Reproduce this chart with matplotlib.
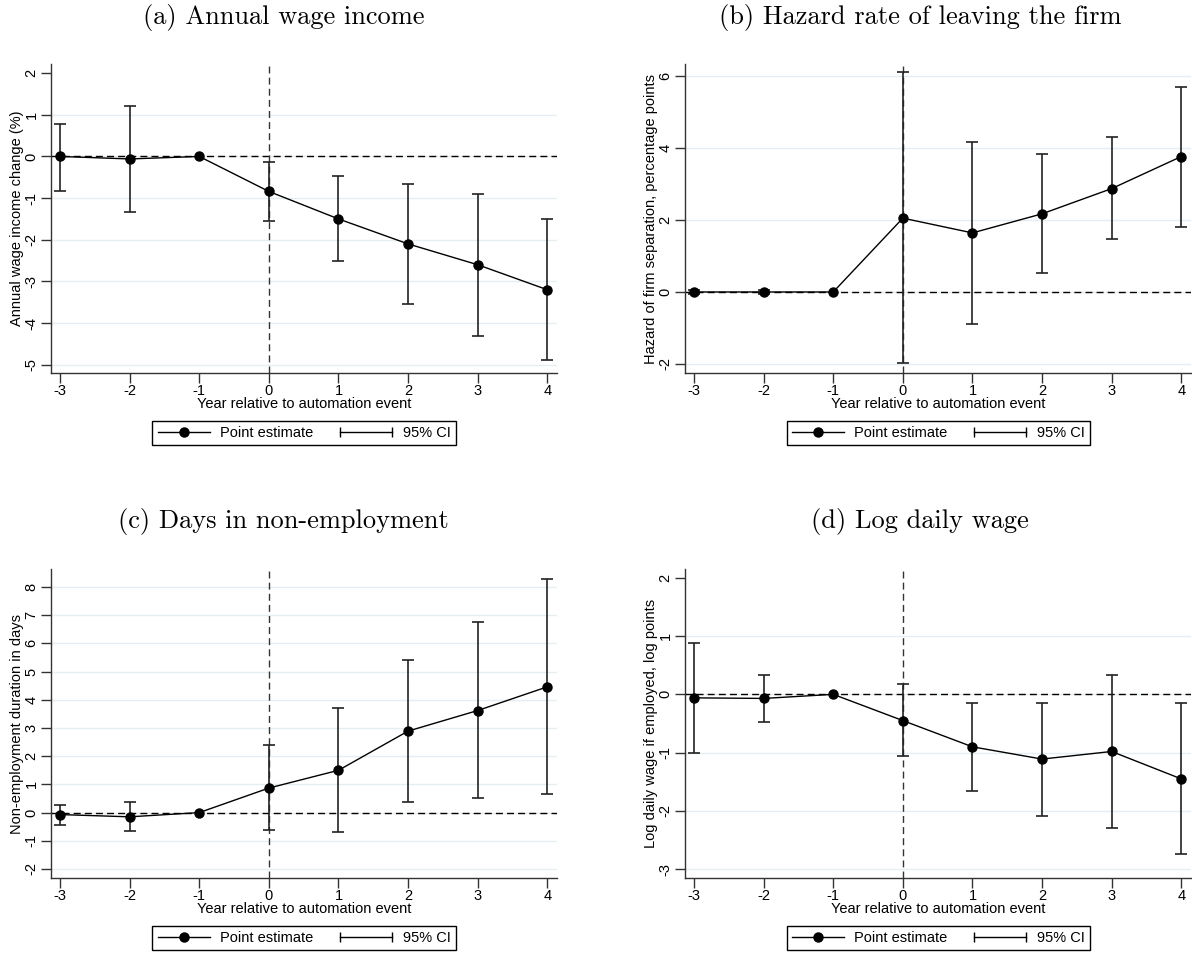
import numpy as np
import matplotlib.pyplot as plt
from matplotlib.lines import Line2D
from matplotlib.legend_handler import HandlerLine2D

plt.rcParams['font.family'] = ['Liberation Sans', 'DejaVu Sans']
plt.rcParams['axes.unicode_minus'] = False

years = [-3, -2, -1, 0, 1, 2, 3, 4]

# (a) annual wage income
wage_est = [0.0, -0.06, 0.0, -0.84, -1.50, -2.10, -2.60, -3.20]
wage_lo = [-0.82, -1.34, np.nan, -1.55, -2.52, -3.54, -4.30, -4.89]
wage_hi = [0.79, 1.22, np.nan, -0.13, -0.46, -0.65, -0.89, -1.50]

# (b) hazard of leaving the firm
haz_est = [0.0, 0.0, 0.0, 2.05, 1.64, 2.17, 2.87, 3.76]
haz_lo = [-0.05, -0.05, np.nan, -1.97, -0.88, 0.52, 1.46, 1.81]
haz_hi = [0.05, 0.05, np.nan, 6.10, 4.17, 3.83, 4.30, 5.70]

# (c) days in non-employment
days_est = [-0.07, -0.15, 0.0, 0.87, 1.50, 2.89, 3.62, 4.46]
days_lo = [-0.44, -0.65, np.nan, -0.63, -0.70, 0.38, 0.50, 0.65]
days_hi = [0.28, 0.37, np.nan, 2.41, 3.71, 5.41, 6.75, 8.30]

# (d) log daily wage
logw_est = [-0.06, -0.07, 0.0, -0.45, -0.90, -1.11, -0.98, -1.45]
logw_lo = [-1.00, -0.47, np.nan, -1.06, -1.66, -2.08, -2.29, -2.74]
logw_hi = [0.88, 0.33, np.nan, 0.17, -0.14, -0.14, 0.34, -0.14]

titles = ['(a) Annual wage income', '(b) Hazard rate of leaving the firm',
          '(c) Days in non-employment', '(d) Log daily wage']
ylabels = ['Annual wage income change (%)',
           'Hazard of firm separation, percentage points',
           'Non-employment duration in days',
           'Log daily wage if employed, log points']
yticks_list = [[2, 1, 0, -1, -2, -3, -4, -5],
               [6, 4, 2, 0, -2],
               [8, 7, 6, 5, 4, 3, 2, 1, 0, -1, -2],
               [2, 1, 0, -1, -2, -3]]
ylims = [(-5.2, 2.22), (-2.25, 6.33), (-2.32, 8.64), (-3.15, 2.15)]
skip_top_grid = [True, False, False, True]
xlabel = 'Year relative to automation event'

series = [(wage_est, wage_lo, wage_hi), (haz_est, haz_lo, haz_hi),
          (days_est, days_lo, days_hi), (logw_est, logw_lo, logw_hi)]

W, H = 1192, 956
fig = plt.figure(figsize=(W / 100, H / 100), dpi=100)

# pixel layout of each panel: axes left, axes top, title centre x, title baseline y
ax_w, ax_h = 506, 309
layout = [(51, 64, 284, 24), (685, 64, 920, 24),
          (51, 569, 283, 528), (685, 569, 920, 528)]
fs = 10.5

for i in range(4):
    left, top, tx, ty = layout[i]
    ax = fig.add_axes([left / W, 1 - (top + ax_h) / H, ax_w / W, ax_h / H])
    est, lo, hi = [np.array(s, dtype=float) for s in series[i]]
    x = np.array(years, dtype=float)

    # light grid lines
    gticks = yticks_list[i][1:] if skip_top_grid[i] else yticks_list[i]
    for t in gticks:
        ax.axhline(t, color='#e6eef1', lw=1, zorder=0)

    ax.axhline(0, color='black', lw=1, ls=(0, (5, 3)), zorder=1)
    ax.axvline(0, color='#333333', lw=1, ls=(0, (5, 3)), zorder=1)

    ok = np.isfinite(lo)
    ax.errorbar(x[ok], est[ok], yerr=[est[ok] - lo[ok], hi[ok] - est[ok]],
                fmt='none', ecolor='#222222', elinewidth=1.2, capsize=4,
                capthick=1.2, zorder=2)
    ax.plot(x, est, color='black', lw=1, marker='o', ms=6.5, zorder=3)

    ax.set_xlim(-3.13, 4.14)
    ax.set_ylim(*ylims[i])
    ax.set_xticks(years)
    ax.set_yticks(yticks_list[i])
    for s in ['top', 'right']:
        ax.spines[s].set_visible(False)
    for s in ['left', 'bottom']:
        ax.spines[s].set_color('#333333')
        ax.spines[s].set_linewidth(1)
    ax.tick_params(direction='out', length=7, width=1, color='#333333',
                   labelsize=fs)
    ax.tick_params(axis='x', pad=0.8)
    ax.tick_params(axis='y', labelrotation=90, pad=2)
    for lab in ax.get_yticklabels():
        lab.set_va('center')

    ax.set_xlabel(xlabel, fontsize=fs)
    ax.xaxis.set_label_coords(0.5, -24 / ax_h)
    ax.set_ylabel(ylabels[i], fontsize=fs)
    ax.yaxis.set_label_coords(-27 / ax_w, 0.5)

    pe = Line2D([], [], color='black', lw=1, marker='o', ms=6.5)
    ci = Line2D([], [], color='black', lw=1, marker='|', ms=7, mew=1)
    leg = ax.legend([pe, ci], ['Point estimate', '95% CI'], ncol=2,
                    loc='upper center', bbox_to_anchor=(0.5, -48 / ax_h),
                    borderaxespad=0, fontsize=fs, frameon=True,
                    fancybox=False, edgecolor='black', framealpha=1,
                    borderpad=0.35, handlelength=3.6, handletextpad=0.7,
                    columnspacing=1.8,
                    handler_map={pe: HandlerLine2D(numpoints=1),
                                 ci: HandlerLine2D(numpoints=2, marker_pad=0)})
    leg.get_frame().set_linewidth(1)

    fig.text(tx / W, 1 - ty / H, titles[i], family='cmr10', fontsize=19,
             ha='center', va='baseline')

fig.savefig('out.png', dpi=100)
